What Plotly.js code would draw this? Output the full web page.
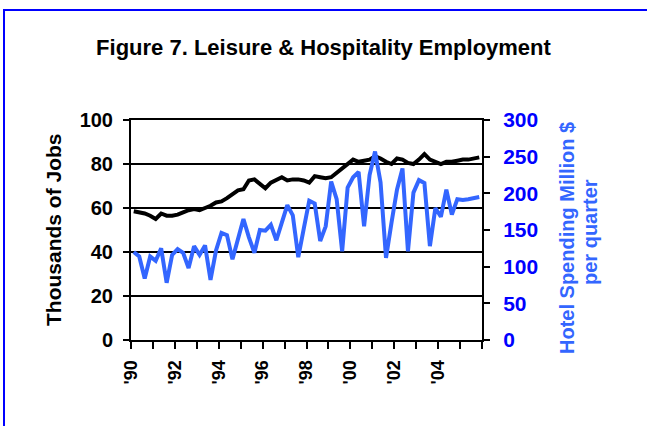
<!DOCTYPE html>
<html>
<head>
<meta charset="utf-8">
<script src="https://cdn.plot.ly/plotly-3.0.1.min.js"></script>
<style>
  html, body { margin: 0; padding: 0; background: #fff; }
  #chart { width: 647px; height: 426px; }
</style>
</head>
<body>
<div id="chart"></div>
<script>
// Quarterly observations, 1990 Q1 to 2005 Q4
const startYear = 1990;
const quartersPerYear = 4;

// Leisure & Hospitality employment, thousands of jobs (left axis)
const jobs = [
  58.5, 58, 57.5, 56.5, 55, 57.5, 56.5, 56.5,
  57, 58, 59, 59.5, 59, 60, 61, 62.5,
  63, 64.5, 66, 68, 68.5, 72.5, 73, 71,
  69, 71.5, 73, 74, 72.5, 73, 73, 72.5,
  71.5, 74.5, 74, 73.5, 74, 76, 78, 79.5,
  82, 81, 81.5, 82, 83.5, 82.5, 81, 80,
  82.5, 82, 80.5, 80, 82, 84.5, 82, 81,
  80, 81, 81, 81.5, 82, 82, 82.5, 83
];

// Hotel spending, million $ per quarter (right axis)
const hotel = [
  120, 114, 84, 114, 108, 125, 78, 116,
  124, 119, 98, 128, 116, 129, 82, 122,
  146, 143, 110, 136, 165, 140, 119, 150,
  149, 157, 136, 160, 184, 170, 113, 152,
  190, 186, 135, 155, 216, 192, 121, 208,
  222, 229, 155, 225, 257, 215, 112, 160,
  205, 234, 121, 201, 218, 214, 128, 180,
  168, 205, 171, 192, 191, 192, 193, 195
];

// X tick positions and labels
const tickYears = [1990,1991,1992,1993,1994,1995,1996,1997,1998,1999,2000,2001,2002,2003,2004,2005,2006];
const tickLabels = ["'90","","'92","","'94","","'96","","'98","","'00","","'02","","'04","",""];

const chartTitle = 'Figure 7. Leisure & Hospitality Employment';
const leftTitle = 'Thousands of Jobs';
const rightTitle1 = 'Hotel Spending Million $';
const rightTitle2 = 'per quarter';

// Quarter positions: each quarter centered in its slot (between tick marks)
const xq = jobs.map((_, i) => startYear + (i + 0.5) / quartersPerYear);

const blueLine = '#3366FF';
const blueText = '#0000FF';
const FONT = 'Liberation Sans, Arial, sans-serif';

const traces = [
  {
    x: xq, y: jobs, type: 'scatter', mode: 'lines',
    line: {color: '#000000', width: 4}, yaxis: 'y', name: 'Jobs',
    hoverinfo: 'skip'
  },
  {
    x: xq, y: hotel, type: 'scatter', mode: 'lines',
    line: {color: blueLine, width: 4}, yaxis: 'y2', name: 'Hotel',
    hoverinfo: 'skip'
  }
];

const layout = {
  width: 647, height: 426,
  margin: {l: 131, r: 165, t: 120, b: 86, pad: 0},
  paper_bgcolor: '#ffffff', plot_bgcolor: '#ffffff',
  showlegend: false,
  font: {family: FONT, size: 16, color: '#000', weight: 'bold'},
  title: {
    text: chartTitle,
    font: {family: FONT, size: 22, weight: 'bold', color: '#000'},
    x: 0.5, xref: 'container', xanchor: 'center',
    y: 1 - 47/426, yref: 'container', yanchor: 'middle'
  },
  xaxis: {
    range: [1990, 2006], tickmode: 'array', tickvals: tickYears, ticktext: tickLabels,
    tickangle: -90, ticks: 'outside', ticklen: 7, tickwidth: 2, tickcolor: '#000',
    ticklabelstandoff: 4,
    showline: true, linewidth: 2, linecolor: '#000', mirror: true,
    showgrid: false, zeroline: false,
    tickfont: {family: FONT, size: 18, weight: 'bold', color: '#000'}
  },
  yaxis: {
    range: [0, 100], dtick: 20, tick0: 0,
    ticks: 'outside', ticklen: 6, tickwidth: 2, tickcolor: '#000',
    ticklabelstandoff: 6,
    showline: true, linewidth: 2, linecolor: '#000',
    showgrid: true, gridcolor: '#000', gridwidth: 2, zeroline: false,
    tickfont: {family: FONT, size: 20, weight: 'bold', color: '#000'}
  },
  yaxis2: {
    range: [0, 300], dtick: 50, tick0: 0, overlaying: 'y', side: 'right',
    ticks: 'outside', ticklen: 6, tickwidth: 2, tickcolor: '#000',
    ticklabelstandoff: 9,
    showline: true, linewidth: 2, linecolor: '#000',
    showgrid: false, zeroline: false,
    tickfont: {family: FONT, size: 21, weight: 'bold', color: blueText}
  },
  annotations: [
    {text: leftTitle, xref: 'paper', yref: 'paper', x: (53 - 131) / 351, y: (340 - 230) / 220,
     xanchor: 'center', yanchor: 'middle', textangle: -90, showarrow: false,
     font: {family: FONT, size: 21, weight: 'bold', color: '#000'}},
    {text: rightTitle1, xref: 'paper', yref: 'paper', x: (567 - 131) / 351, y: (340 - 238) / 220,
     xanchor: 'center', yanchor: 'middle', textangle: -90, showarrow: false,
     font: {family: FONT, size: 20, weight: 'bold', color: blueLine}},
    {text: rightTitle2, xref: 'paper', yref: 'paper', x: (590 - 131) / 351, y: (340 - 232) / 220,
     xanchor: 'center', yanchor: 'middle', textangle: -90, showarrow: false,
     font: {family: FONT, size: 20, weight: 'bold', color: blueLine}}
  ],
  shapes: [
    {
      type: 'rect', xref: 'paper', yref: 'paper',
      x0: (4 - 131) / 351, x1: (700 - 131) / 351,
      y0: (340 - 480) / 220, y1: (340 - 10) / 220,
      line: {color: '#0000FF', width: 2}, fillcolor: 'rgba(0,0,0,0)', layer: 'above'
    }
  ]
};

Plotly.newPlot('chart', traces, layout, {displayModeBar: false, staticPlot: true});
</script>
</body>
</html>
